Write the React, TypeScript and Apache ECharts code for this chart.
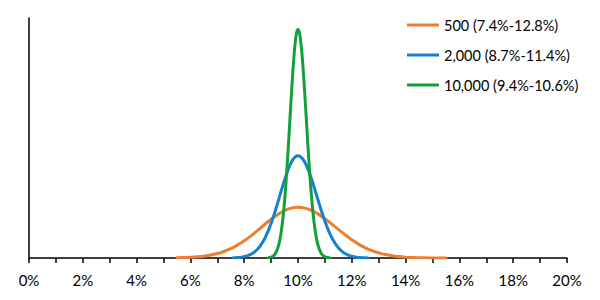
import React, { useEffect, useRef } from "react";
import * as echarts from "echarts";

// x positions (%) and read heights (density per percentage point)
const orangeX = [5.5, 5.75, 6, 6.25, 6.5, 6.75, 7, 7.25, 7.5, 7.75, 8, 8.25, 8.5, 8.75, 9, 9.25, 9.5, 9.75, 10, 10.25, 10.5, 10.75, 11, 11.25, 11.5, 11.75, 12, 12.25, 12.5, 12.75, 13, 13.25, 13.5, 13.75, 14, 14.25, 14.5, 14.75, 15, 15.25, 15.5];
const orangeY = [0.0012, 0.0022, 0.0039, 0.0066, 0.0108, 0.017, 0.026, 0.038, 0.055, 0.075, 0.1, 0.129, 0.161, 0.194, 0.226, 0.254, 0.277, 0.291, 0.296, 0.291, 0.278, 0.256, 0.229, 0.199, 0.167, 0.136, 0.107, 0.081, 0.06, 0.043, 0.03, 0.02, 0.013, 0.0082, 0.005, 0.003, 0.0017, 0.0009, 0.0005, 0.0003, 0.0001];

const blueX = [7.6, 7.7, 7.8, 7.9, 8, 8.1, 8.2, 8.3, 8.4, 8.5, 8.6, 8.7, 8.8, 8.9, 9, 9.1, 9.2, 9.3, 9.4, 9.5, 9.6, 9.7, 9.8, 9.9, 10, 10.1, 10.2, 10.3, 10.4, 10.5, 10.6, 10.7, 10.8, 10.9, 11, 11.1, 11.2, 11.3, 11.4, 11.5, 11.6, 11.7, 11.8, 11.9, 12, 12.1, 12.2, 12.3, 12.4, 12.5, 12.6];
const blueY = [0.0012, 0.002, 0.0032, 0.0051, 0.0079, 0.012, 0.0179, 0.0262, 0.0374, 0.0523, 0.0716, 0.0959, 0.126, 0.161, 0.202, 0.248, 0.298, 0.351, 0.404, 0.455, 0.501, 0.541, 0.571, 0.59, 0.596, 0.59, 0.572, 0.544, 0.506, 0.462, 0.413, 0.361, 0.31, 0.261, 0.215, 0.173, 0.137, 0.106, 0.0807, 0.06, 0.0437, 0.0312, 0.0218, 0.015, 0.0101, 0.0066, 0.0043, 0.0027, 0.0017, 0.001, 0.0006];

const greenX = [8.9, 8.95, 9, 9.05, 9.1, 9.15, 9.2, 9.25, 9.3, 9.35, 9.4, 9.45, 9.5, 9.55, 9.6, 9.65, 9.7, 9.75, 9.8, 9.85, 9.9, 9.95, 10, 10.05, 10.1, 10.15, 10.2, 10.25, 10.3, 10.35, 10.4, 10.45, 10.5, 10.55, 10.6, 10.65, 10.7, 10.75, 10.8, 10.85, 10.9, 10.95, 11, 11.05, 11.1, 11.15, 11.2];
const greenY = [0.0016, 0.0029, 0.0052, 0.0089, 0.0148, 0.0241, 0.0381, 0.0586, 0.0876, 0.127, 0.18, 0.248, 0.332, 0.433, 0.548, 0.675, 0.809, 0.942, 1.067, 1.176, 1.261, 1.315, 1.333, 1.316, 1.265, 1.186, 1.083, 0.963, 0.835, 0.705, 0.58, 0.465, 0.363, 0.276, 0.205, 0.148, 0.104, 0.0714, 0.0477, 0.0311, 0.0197, 0.0122, 0.0073, 0.0043, 0.0025, 0.0014, 0.0007];

const seriesNames = ["500 (7.4%-12.8%)", "2,000 (8.7%-11.4%)", "10,000 (9.4%-10.6%)"];
const seriesColors = ["#ED7D31", "#1581CF", "#13A03B"];

const xMin = 0;
const xMax = 20;
const xStep = 1;
const labelStep = 2;

const zip = (xs: number[], ys: number[]) => xs.map((x, i) => [x, ys[i]]);

export default function App() {
  const ref = useRef<HTMLDivElement>(null);
  useEffect(() => {
    if (!ref.current) return;
    const chart = echarts.init(ref.current, undefined, { renderer: "svg" });
    const font = "Lato, 'Open Sans', sans-serif";
    const datasets = [zip(orangeX, orangeY), zip(blueX, blueY), zip(greenX, greenY)];
    chart.setOption({
      animation: false,
      backgroundColor: "#ffffff",
      grid: { left: 29, right: 33, top: 18, bottom: 42, containLabel: false },
      legend: {
        orient: "vertical",
        left: 407,
        top: 17,
        padding: 0,
        icon: "rect",
        itemWidth: 32,
        itemHeight: 3,
        itemGap: 14,
        textStyle: { fontFamily: font, fontSize: 14.5, color: "#000", lineHeight: 16 },
        data: seriesNames,
      },
      xAxis: {
        type: "value",
        min: xMin,
        max: xMax,
        interval: xStep,
        axisLine: { show: true, onZero: false, lineStyle: { color: "#000", width: 1.5 } },
        axisTick: { show: true, inside: false, length: 5, lineStyle: { color: "#000", width: 1.5 } },
        axisLabel: {
          margin: 14,
          fontFamily: font,
          fontSize: 15,
          color: "#000",
          formatter: (v: number) => (v % labelStep === 0 ? v + "%" : ""),
        },
        splitLine: { show: false },
      },
      yAxis: {
        type: "value",
        min: 0,
        max: 1.4,
        axisLine: { show: true, lineStyle: { color: "#000", width: 1.5 } },
        axisTick: { show: false },
        axisLabel: { show: false },
        splitLine: { show: false },
      },
      series: seriesNames.map((name, i) => ({
        name,
        type: "line",
        data: datasets[i],
        smooth: true,
        symbol: "none",
        showSymbol: false,
        color: seriesColors[i],
        lineStyle: { width: 3, color: seriesColors[i], cap: "round" },
      })),
    });
    return () => chart.dispose();
  }, []);
  return (
    <div
      ref={ref}
      style={{ position: "fixed", left: 0, top: 0, width: 600, height: 300, background: "#fff" }}
    />
  );
}
